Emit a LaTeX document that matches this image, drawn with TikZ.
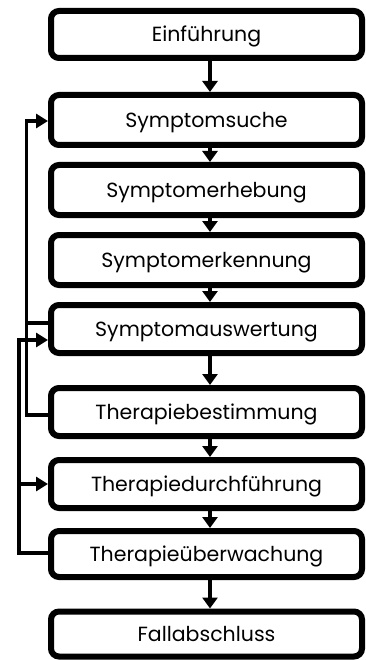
\documentclass[tikz,border=0pt]{standalone}
\usepackage{fontspec}
\setmainfont{Poppins}
\usetikzlibrary{arrows.meta,calc}
\begin{document}
\begin{tikzpicture}[x=1pt,y=-1pt,
  stepbox/.style={draw=black,line width=6pt,rounded corners=8pt,minimum width=311pt,
    text height=15pt,text depth=0pt,inner sep=0pt,
    font=\fontsize{20.5}{24}\selectfont},
  flow/.style={line width=4pt,-{Triangle[width=15pt,length=11pt]}},
  back/.style={line width=3.5pt,-{Triangle[width=14pt,length=12pt]}},
  line/.style={line width=3.5pt}]
\useasboundingbox (0,0) rectangle (366,660);
\node[stepbox,minimum height=47pt] (b1) at (206.5,34.5) {Einführung};
\node[stepbox,minimum height=50pt] (b2) at (206.5,120) {Symptomsuche};
\node[stepbox,minimum height=50pt] (b3) at (206.5,190) {Symptomerhebung};
\node[stepbox,minimum height=50pt] (b4) at (206.5,260) {Symptomerkennung};
\node[stepbox,minimum height=48pt] (b5) at (206.5,329) {Symptomauswertung};
\node[stepbox,minimum height=48pt] (b6) at (206.5,412) {Therapiebestimmung};
\node[stepbox,minimum height=48pt] (b7) at (206.5,484) {Therapiedurchführung};
\node[stepbox,minimum height=46pt] (b8) at (206.5,554) {Therapieüberwachung};
\node[stepbox,minimum height=45pt] (b9) at (206.5,634) {Fallabschluss};
\coordinate (ax) at (210,0);
\foreach \a/\b in {b1/b2,b2/b3,b3/b4,b4/b5,b5/b6,b6/b7,b7/b8,b8/b9}
  \draw[flow] (\a.south -| ax) -- (\b.north -| ax);
% feedback A
\coordinate (ya) at (26.5,323);
\coordinate (yb) at (26.5,415);
\coordinate (ta) at (26.5,121);
\draw[line] (b5.west |- ya) -- (ya);
\draw[back] (b6.west |- yb) -- (yb) -- (ta) -- (b2.west |- ta);
% feedback B
\coordinate (yc) at (19,553);
\coordinate (yd) at (19,484);
\coordinate (tb) at (19,340);
\draw[back] (b8.west |- yc) -- (yc) -- (tb) -- (b5.west |- tb);
\draw[back] (yd) -- (b7.west |- yd);
\end{tikzpicture}
\end{document}
